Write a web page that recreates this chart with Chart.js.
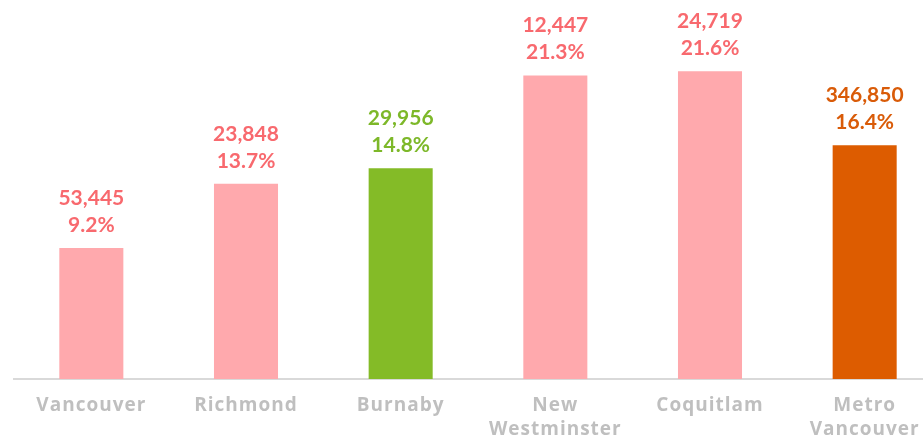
<!DOCTYPE html>
<html>
<head>
<meta charset="utf-8">
<script src="https://cdn.jsdelivr.net/npm/chart.js@4.4.0/dist/chart.umd.min.js"></script>
<style>
  html, body { margin: 0; padding: 0; background: #fff; overflow: hidden; }
  #wrap { position: relative; width: 942px; height: 440px; }
</style>
</head>
<body>
<div id="wrap"><canvas id="grafico"></canvas></div>
<script>
// dados
const categorias = ['Vancouver', 'Richmond', 'Burnaby', ['New', 'Westminster'], 'Coquitlam', ['Metro', 'Vancouver']];
const percentuais = [9.2, 13.7, 14.8, 21.3, 21.6, 16.4];
const totais = ['53,445', '23,848', '29,956', '12,447', '24,719', '346,850'];

const corBarras = ['#FFA9AD', '#FFA9AD', '#84BB27', '#FFA9AD', '#FFA9AD', '#DD5C00'];
const corRotulos = ['#F8696E', '#F8696E', '#7DB829', '#F8696E', '#F8696E', '#D95B08'];

// espaçamento das letras do eixo x
const espacamento = {
    id: 'espacamento',
    beforeDraw(chart) {
        chart.ctx.letterSpacing = '1px';
    }
};

// rotulos em cima das barras
const rotulosBarras = {
    id: 'rotulosBarras',
    afterDatasetsDraw(chart) {
        const ctx = chart.ctx;
        const meta = chart.getDatasetMeta(0);
        ctx.save();
        ctx.letterSpacing = '0px';
        ctx.font = 'bold 21px Lato';
        ctx.textAlign = 'center';
        ctx.textBaseline = 'middle';
        meta.data.forEach((barra, i) => {
            ctx.fillStyle = corRotulos[i];
            ctx.fillText(totais[i], barra.x, barra.y - 50);
            ctx.fillText(percentuais[i].toFixed(1) + '%', barra.x, barra.y - 23);
        });
        ctx.restore();
    }
};

new Chart(document.getElementById('grafico').getContext('2d'), {
    type: 'bar',
    data: {
        labels: categorias,
        datasets: [{
            data: percentuais,
            backgroundColor: corBarras,
            barPercentage: 0.414,
            categoryPercentage: 1
        }]
    },
    options: {
        responsive: true,
        maintainAspectRatio: false,
        animation: false,
        layout: { padding: { left: 14, right: 0, top: 0, bottom: 0 } },
        plugins: {
            legend: { display: false },
            tooltip: { enabled: false }
        },
        scales: {
            x: {
                grid: { display: false, drawTicks: false },
                border: { color: '#D9D9D9', width: 2 },
                afterFit(escala) { escala.height = 61; },
                ticks: {
                    color: '#BFBFBF',
                    padding: 15,
                    font: { family: 'Open Sans', weight: 'bold', size: 19, lineHeight: 1.26 }
                }
            },
            y: {
                display: false,
                min: 0,
                max: 26.6
            }
        }
    },
    plugins: [espacamento, rotulosBarras]
});
</script>
</body>
</html>
